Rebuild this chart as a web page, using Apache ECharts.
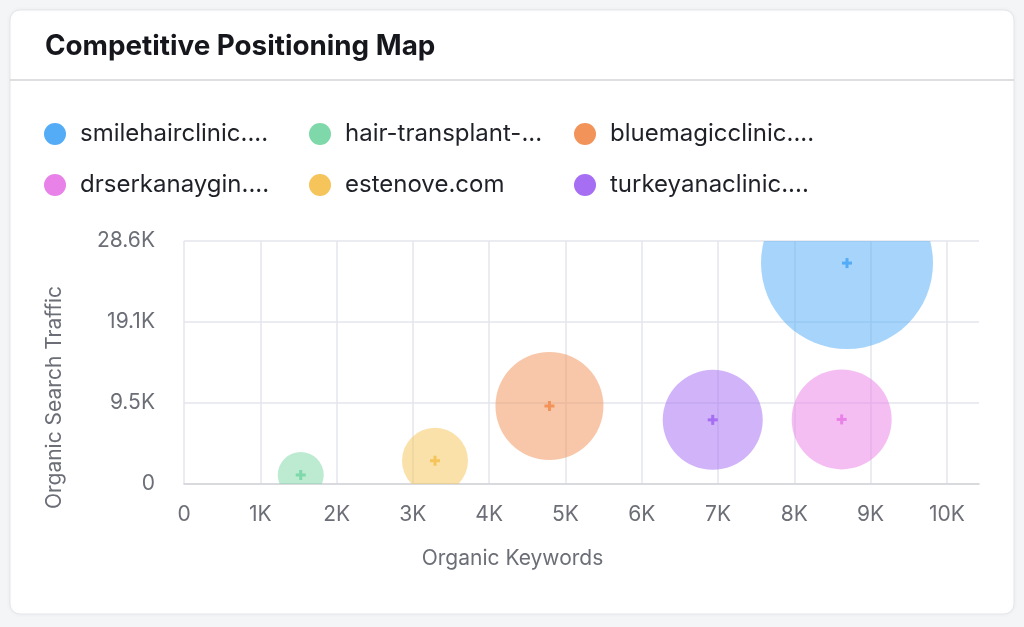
<!DOCTYPE html>
<html>
<head>
<meta charset="utf-8">
<script src="https://cdn.jsdelivr.net/npm/echarts@6/dist/echarts.min.js"></script>
<style>
  html, body { margin: 0; padding: 0; background: #f4f5f7; }
  #chart { width: 1024px; height: 627px; }
</style>
</head>
<body>
<div id="chart"></div>
<script>
// ---- data ----
const competitors = ['smilehairclinic....', 'hair-transplant-...', 'bluemagicclinic....', 'drserkanaygin....', 'estenove.com', 'turkeyanaclinic....'];
const organicKeywords = [8690, 1530, 4790, 8620, 3290, 6930];
const organicTraffic = [26000, 1060, 9180, 7600, 2740, 7550];
const bubbleSize = [172, 46, 108, 100, 66, 100];
const colors = ['#54acf7', '#7ed8a9', '#f2935a', '#e982e8', '#f5c55b', '#a56ef3'];
const xTicks = [0, 1000, 2000, 3000, 4000, 5000, 6000, 7000, 8000, 9000, 10000];
const xMax = 10420;
const yMax = 28600;

const font = 'Inter, "Noto Sans", sans-serif';
const chart = echarts.init(document.getElementById('chart'));

function fmtK(v) {
  if (v === 0) return '0';
  return (v / 1000).toFixed(1).replace(/\.0$/, '') + 'K';
}

const series = competitors.map((name, i) => ({
  type: 'custom',
  name: name,
  clip: true,
  z: 2,
  data: [[organicKeywords[i], organicTraffic[i], bubbleSize[i]]],
  encode: { x: 0, y: 1 },
  itemStyle: { color: colors[i] },
  renderItem: (params, api) => {
    const c = api.coord([api.value(0), api.value(1)]);
    const r = api.value(2) / 2;
    const col = colors[i];
    return {
      type: 'group',
      children: [
        { type: 'circle', shape: { cx: c[0], cy: c[1], r: r }, style: { fill: col, opacity: 0.52 } },
        { type: 'rect', shape: { x: c[0] - 5, y: c[1] - 1.5, width: 10, height: 3 }, style: { fill: col } },
        { type: 'rect', shape: { x: c[0] - 1.5, y: c[1] - 5, width: 3, height: 10 }, style: { fill: col } }
      ]
    };
  },
  emphasis: { disabled: true }
}));

chart.setOption({
  backgroundColor: '#f4f5f7',
  animation: false,
  textStyle: { fontFamily: font },
  graphic: [
    {
      type: 'rect', z: -10, silent: true,
      shape: { x: 10, y: 10, width: 1004, height: 604, r: 10 },
      style: { fill: '#ffffff', stroke: '#e6e7eb', lineWidth: 1, shadowBlur: 4, shadowColor: 'rgba(0,0,0,0.05)' }
    },
    {
      type: 'line', z: -9, silent: true,
      shape: { x1: 10, y1: 80, x2: 1014, y2: 80 },
      style: { stroke: '#d4d5da', lineWidth: 1.5 }
    }
  ],
  title: {
    text: 'Competitive Positioning Map',
    left: 45, top: 30, padding: 0,
    textStyle: { fontFamily: font, fontSize: 27.8, fontWeight: 700, color: '#15171c', lineHeight: 34 }
  },
  legend: {
    left: 44, top: 122, width: 800, padding: 0,
    itemWidth: 22, itemHeight: 22, itemGap: 27,
    icon: 'circle',
    selectedMode: false,
    data: competitors.map((n, i) => ({ name: n, itemStyle: { color: colors[i], opacity: 1 } })),
    textStyle: { fontFamily: font, fontSize: 24, color: '#1f2128', width: 202, lineHeight: 22, padding: [0, 0, 0, 9] }
  },
  grid: { left: 184, right: 45, top: 241, bottom: 143, containLabel: false },
  xAxis: {
    type: 'value', min: 0, max: xMax, interval: 1000,
    name: 'Organic Keywords', nameLocation: 'middle', nameGap: 64,
    nameTextStyle: { fontFamily: font, fontSize: 21, color: '#6b6e76', padding: [0, 138, 0, 0] },
    axisLine: { show: true, lineStyle: { color: '#d2d3d8', width: 1.5 } },
    axisTick: { show: false },
    axisLabel: {
      fontFamily: font, fontSize: 21, color: '#6b6e76', margin: 20,
      showMaxLabel: false,
      formatter: v => (xTicks.indexOf(v) >= 0 ? fmtK(v) : '')
    },
    splitLine: { show: true, showMaxLine: false, lineStyle: { color: '#e5e6ec', width: 1.5 } }
  },
  yAxis: {
    type: 'value', min: 0, max: yMax, interval: yMax / 3,
    name: 'Organic Search Traffic', nameLocation: 'middle', nameGap: 119,
    nameTextStyle: { fontFamily: font, fontSize: 21, color: '#6b6e76', padding: [0, 70, 0, 0] },
    axisLine: { show: false },
    axisTick: { show: false },
    axisLabel: { fontFamily: font, fontSize: 21, color: '#6b6e76', margin: 29, formatter: fmtK },
    splitLine: { show: true, lineStyle: { color: '#e5e6ec', width: 1.5 } }
  },
  series: series
});
</script>
</body>
</html>
